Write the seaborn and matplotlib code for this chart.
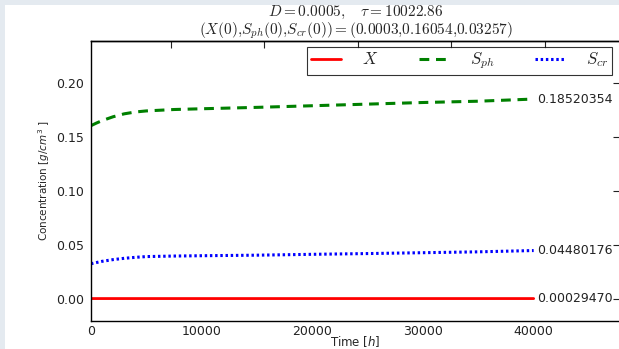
import matplotlib
matplotlib.use("Agg")
import matplotlib.pyplot as plt
import seaborn as sns
import pandas as pd
from matplotlib.patches import Rectangle

# ---- data ----
time_h = [0, 500, 1000, 2000, 3000, 4000, 5000, 7500, 10000, 15000,
          20000, 25000, 30000, 35000, 40000]
X_vals = [0.0003, 0.0003, 0.0003, 0.0003, 0.0003, 0.0003, 0.0003, 0.0003,
          0.0003, 0.0003, 0.0003, 0.0003, 0.0003, 0.0003, 0.00029470]
S_ph_vals = [0.16054, 0.1630, 0.1652, 0.1688, 0.1715, 0.1732, 0.1742, 0.1755,
             0.1762, 0.1775, 0.1790, 0.1805, 0.1820, 0.1832, 0.18520354]
S_cr_vals = [0.03257, 0.0337, 0.0348, 0.0364, 0.0376, 0.0385, 0.0392, 0.0397,
             0.0400, 0.0405, 0.0413, 0.0420, 0.0428, 0.0436, 0.04480176]
series_labels = [r"$X$", r"$S_{ph}$", r"$S_{cr}$"]
end_labels = ["0.00029470", "0.18520354", "0.04480176"]
x_ticks = [0, 10000, 20000, 30000, 40000]
y_ticks = [0.0, 0.05, 0.10, 0.15, 0.20]
y_ticklabels = ["0.00", "0.05", "0.10", "0.15", "0.20"]
top_ticks = [7220, 15620, 24110, 32500, 40990]
title_line1 = r"$D=0.0005,\quad \tau=10022.86$"
title_line2 = r"$(X(0){,}S_{ph}(0){,}S_{cr}(0))=(0.0003{,}0.16054{,}0.03257)$"

sns.set_style("white")
plt.rcParams["font.family"] = ["DejaVu Sans"]

fig = plt.figure(figsize=(6.19, 3.49), dpi=100)
fig.patch.set_facecolor("#e4eaf0")
fig.patches.append(Rectangle((5 / 619, 0), 1, 1 - 5 / 349, transform=fig.transFigure,
                             facecolor="white", edgecolor="none", zorder=-10))

ax = fig.add_axes([91 / 619, 1 - 321 / 349, (620 - 91) / 619, (321 - 41) / 349])
ax.set_facecolor("white")

df = pd.DataFrame({"t": time_h, "X": X_vals, "S_ph": S_ph_vals, "S_cr": S_cr_vals})
styles = [("X", "red", "-", 2.0), ("S_ph", "green", (0, (3.2, 2.2)), 2.2),
          ("S_cr", "blue", (0, (0.8, 0.9)), 2.2)]
for (col, color, ls, lw), lab in zip(styles, series_labels):
    sns.lineplot(data=df, x="t", y=col, ax=ax, color=color, linestyle=ls,
                 linewidth=lw, label=lab)

for col, txt in zip(["X", "S_ph", "S_cr"], end_labels):
    ax.text(df["t"].iloc[-1] + 300, df[col].iloc[-1], txt, va="center", ha="left",
            fontsize=9, color="#222222")

ax.set_xlim(0, 47800)
ax.set_ylim(-0.0205, 0.239)
ax.set_xticks(x_ticks)
ax.set_yticks(y_ticks)
ax.set_yticklabels(y_ticklabels)
ax.tick_params(direction="in", length=5, width=0.8, top=False, right=True,
               labelsize=9, pad=3, colors="#222222")
ax.tick_params(axis="y", pad=5)
sec = ax.secondary_xaxis("top")
sec.set_xticks(top_ticks)
sec.set_xticklabels([])
sec.tick_params(direction="in", length=5, width=0.8, colors="#222222")
for s in list(ax.spines.values()) + list(sec.spines.values()):
    s.set_color("black")
    s.set_linewidth(1.0)

ax.set_xlabel(r"Time [$h$]", fontsize=8.5, math_fontfamily="dejavusans")
ax.xaxis.set_label_coords(0.5, -0.048)
ax.set_ylabel(r"Concentration [$g/cm^3$ ]", fontsize=7.5, labelpad=3,
              math_fontfamily="dejavusans")

ax.set_title(title_line1 + "\n" + title_line2, fontsize=11, pad=4,
             math_fontfamily="cm", linespacing=0.95)

leg = ax.legend(loc="upper right", ncol=3, frameon=True, fancybox=False,
                bbox_to_anchor=(1 - 8 / 529, 1 - 6 / 280), borderaxespad=0,
                prop={"size": 12, "math_fontfamily": "cm"}, handlelength=1.8,
                columnspacing=2.4, handletextpad=1.3, borderpad=0.2)
leg.get_frame().set_edgecolor("black")
leg.get_frame().set_linewidth(0.8)

fig.savefig("out.png", dpi=100, facecolor=fig.get_facecolor())
